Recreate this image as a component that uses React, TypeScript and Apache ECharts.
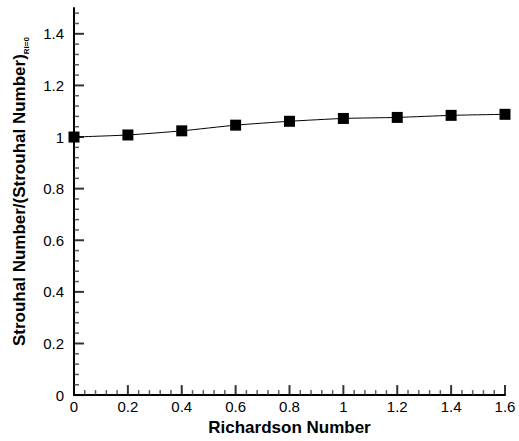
import React, { useEffect, useRef } from "react";
import * as echarts from "echarts";

const richardson = [0, 0.2, 0.4, 0.6, 0.8, 1.0, 1.2, 1.4, 1.6];
const strouhalRatio = [1.0, 1.008, 1.024, 1.046, 1.061, 1.072, 1.076, 1.084, 1.088];
const xMajorTicks = [0, 0.2, 0.4, 0.6, 0.8, 1.0, 1.2, 1.4, 1.6];
const yMajorTicks = [0, 0.2, 0.4, 0.6, 0.8, 1.0, 1.2, 1.4];
const minorStep = 0.04;
const yLabelMax = 1.4;

const FONT = "'Liberation Sans', Arial, sans-serif";

function minorTicks(max: number): number[] {
  const out: number[] = [];
  const n = Math.round(max / minorStep);
  for (let i = 1; i < n; i++) if (i % 5 !== 0) out.push(Math.round(i * minorStep * 1000) / 1000);
  return out;
}

function tickSeries(points: number[][], size: number[], offset: number[], color: string) {
  return {
    type: "scatter",
    silent: true,
    clip: false,
    z: 4,
    data: points,
    symbol: "rect",
    symbolSize: size,
    symbolOffset: offset,
    itemStyle: { color },
    emphasis: { disabled: true },
  };
}

export default function App() {
  const ref = useRef<HTMLDivElement>(null);
  useEffect(() => {
    if (!ref.current) return;
    const chart = echarts.init(ref.current, undefined, { renderer: "svg" });
    const xMinor = minorTicks(1.6);
    const yMinor = minorTicks(1.5);
    chart.setOption({
      animation: false,
      backgroundColor: "#fff",
      grid: { left: 74, right: 14, top: 8, bottom: 38, containLabel: false },
      xAxis: {
        type: "value",
        min: 0,
        max: 1.6,
        interval: 0.2,
        axisLine: { show: true, onZero: false, lineStyle: { color: "#000", width: 2 } },
        axisTick: { show: false },
        splitLine: { show: false },
        axisLabel: {
          color: "#000",
          fontFamily: FONT,
          fontSize: 15,
          margin: 4,
          formatter: (v: number) => String(Math.round(v * 10) / 10),
        },
        name: "Richardson Number",
        nameLocation: "middle",
        nameGap: 19,
        nameTextStyle: { color: "#000", fontFamily: FONT, fontSize: 17, fontWeight: "bold" },
      },
      yAxis: {
        type: "value",
        min: 0,
        max: 1.5,
        interval: 0.2,
        axisLine: { show: true, onZero: false, lineStyle: { color: "#000", width: 2 } },
        axisTick: { show: false },
        splitLine: { show: false },
        axisLabel: {
          color: "#000",
          fontFamily: FONT,
          fontSize: 15,
          margin: 10,
          formatter: (v: number) => (v > yLabelMax + 1e-9 ? "" : String(Math.round(v * 10) / 10)),
        },
        name: "{a|Strouhal Number/(Strouhal Number)}{b|Ri=0}",
        nameLocation: "middle",
        nameRotate: 90,
        nameGap: 44,
        nameTextStyle: {
          color: "#000",
          fontFamily: FONT,
          padding: [0, 0, 0, 20],
          rich: {
            a: { fontFamily: FONT, fontSize: 17, fontWeight: "bold", color: "#000", lineHeight: 22 },
            b: {
              fontFamily: FONT,
              fontSize: 8,
              fontWeight: "bold",
              color: "#000",
              verticalAlign: "bottom",
              lineHeight: 22,
              padding: [10, 0, 0, 0],
            },
          },
        },
      },
      series: [
        tickSeries(xMajorTicks.map((v) => [v, 0]), [2, 10], [0, -5], "#000"),
        tickSeries(xMinor.map((v) => [v, 0]), [1.5, 5], [0, -2.5], "#333"),
        tickSeries(yMajorTicks.map((v) => [0, v]), [10, 2], [5, 0], "#000"),
        tickSeries(yMinor.map((v) => [0, v]), [5, 1.5], [2.5, 0], "#333"),
        {
          type: "line",
          z: 5,
          data: richardson.map((x, i) => [x, strouhalRatio[i]]),
          symbol: "rect",
          symbolSize: 11,
          smooth: 0.2,
          itemStyle: { color: "#000" },
          lineStyle: { color: "#000", width: 1 },
        },
      ],
    });
    return () => chart.dispose();
  }, []);
  return (
    <div
      ref={ref}
      style={{ position: "fixed", left: 0, top: 0, width: 519, height: 441 }}
    />
  );
}
